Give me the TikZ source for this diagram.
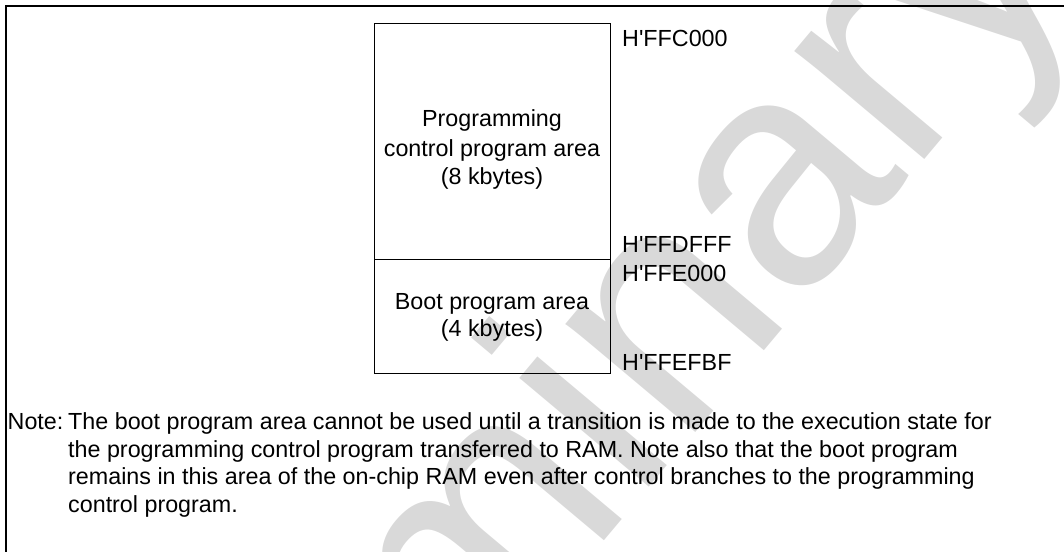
\documentclass[tikz,border=0pt]{standalone}
\usepackage{fontspec}
\setmainfont{Liberation Sans}
\definecolor{wmgray}{RGB}{217,217,217}
\newcommand{\q}{\textquotesingle}
\begin{document}
\begin{tikzpicture}[x=1pt,y=-1pt,
  txt/.style={font=\fontsize{23.3}{27.5}\selectfont, inner sep=0pt},
  area/.style={draw=black, line width=1.2pt, inner sep=0pt, anchor=north west},
  wmark/.style={font=\fontsize{320}{320}\selectfont, text=wmgray, inner sep=0pt}]
\useasboundingbox (0,0) rectangle (1064,551);
% watermark
\node[wmark, rotate=50, anchor=base east] (wm) at (1082,-28) {Preliminary};
% frame
\draw[line width=2pt] (6,552) -- (6,6.3) -- (1064,6.3);
% memory areas
\node[area, minimum width=236pt, minimum height=235.7pt] (ctrl) at (374,23) {};
\node[area, minimum width=236pt, minimum height=113.8pt] (boot) at (374,258.7) {};
% texts in areas
\node[txt, anchor=base] (c1) at (492,126.7) {Programming};
\node[txt, anchor=base] (c2) at (492,156) {control program area};
\node[txt, anchor=base] (c3) at (492,184.5) {(8 kbytes)};
\node[txt, anchor=base] (b1) at (492,309) {Boot program area};
\node[txt, anchor=base] (b2) at (492,336.5) {(4 kbytes)};
% addresses
\node[txt, anchor=base west] (a1) at (622,46) {H\q FFC000};
\node[txt, anchor=base west] (a2) at (622,252.3) {H\q FFDFFF};
\node[txt, anchor=base west] (a3) at (622,281.7) {H\q FFE000};
\node[txt, anchor=base west] (a4) at (622,370) {H\q FFEFBF};
% note
\node[txt, anchor=base west] (nl) at (7.5,429.5) {Note:};
\node[txt, anchor=base west] (n1) at (68,429.5) {The boot program area cannot be used until a transition is made to the execution state for};
\node[txt, anchor=base west] (n2) at (68,457) {the programming control program transferred to RAM. Note also that the boot program};
\node[txt, anchor=base west] (n3) at (68,484.5) {remains in this area of the on-chip RAM even after control branches to the programming};
\node[txt, anchor=base west] (n4) at (68,512) {control program.};
\end{tikzpicture}
\end{document}
